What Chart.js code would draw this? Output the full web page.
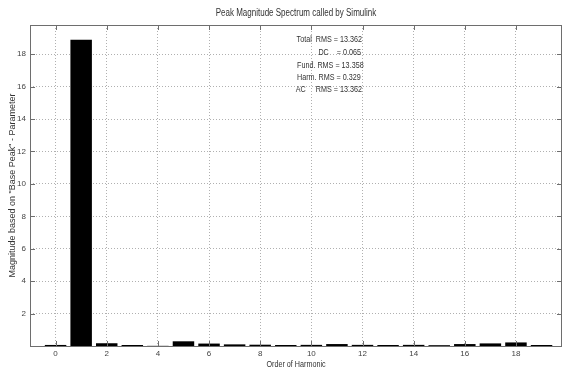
<!DOCTYPE html>
<html>
<head>
<meta charset="utf-8">
<script src="https://cdn.jsdelivr.net/npm/chart.js@4/dist/chart.umd.min.js"></script>
<style>
  body { margin: 0; background: #fff; }
  #wrap { width: 563px; height: 371px; }
</style>
</head>
<body>
<div id="wrap"><canvas id="spectre"></canvas></div>
<script>
// ordre des harmoniques et amplitude crete de chacun
var harmoniques = [0, 1, 2, 3, 4, 5, 6, 7, 8, 9, 10, 11, 12, 13, 14, 15, 16, 17, 18, 19];
var amplitudes = [0.065, 18.89, 0.17, 0.06, 0.01, 0.29, 0.15, 0.10, 0.08, 0.06,
                  0.07, 0.12, 0.07, 0.06, 0.07, 0.05, 0.12, 0.16, 0.22, 0.06];
var ticksX = [0, 2, 4, 6, 8, 10, 12, 14, 16, 18];
var ticksY = [2, 4, 6, 8, 10, 12, 14, 16, 18];

// texte des mesures RMS : [texte, x, alignement, y]
var mesures = [
    ['Total  RMS = 13.362', 362, 'right', 40],
    ['DC    = 0.065', 361, 'right', 53],
    ['Fund. RMS = 13.358', 297, 'left', 66],
    ['Harm. RMS = 0.329', 297, 'left', 78],
    ['AC     RMS = 13.362', 362, 'right', 90]
];

var police = 'Liberation Sans, Arial, sans-serif';

function texteEtroit(ctx, texte, x, y, align) { //Texte compresse horizontalement
    ctx.save();
    ctx.translate(x, y);
    ctx.scale(0.8, 1);
    ctx.textAlign = align;
    ctx.fillText(texte, 0, 0);
    ctx.restore();
}

var cadre = { //Plugin pour le titre, le cadre, les graduations et le texte
    id: 'cadre',
    afterDraw: function(chart) {
        var ctx = chart.ctx;
        var a = chart.chartArea;
        var sx = chart.scales.x;
        var sy = chart.scales.y;
        ctx.save();

        ctx.strokeStyle = '#6e6e6e';
        ctx.lineWidth = 1;
        ctx.strokeRect(a.left + 0.5, a.top + 0.5, a.right - a.left - 1, a.bottom - a.top);

        // graduations vers l'interieur
        ctx.beginPath();
        ticksX.forEach(function(v) {
            var px = Math.round(sx.getPixelForValue(v)) + 0.5;
            ctx.moveTo(px, a.bottom); ctx.lineTo(px, a.bottom - 5);
            ctx.moveTo(px, a.top); ctx.lineTo(px, a.top + 5);
        });
        ticksY.forEach(function(v) {
            var py = Math.round(sy.getPixelForValue(v)) + 0.5;
            ctx.moveTo(a.left, py); ctx.lineTo(a.left + 5, py);
            ctx.moveTo(a.right, py); ctx.lineTo(a.right - 5, py);
        });
        ctx.stroke();

        ctx.fillStyle = '#333';
        ctx.textBaseline = 'middle';
        ctx.font = '10px ' + police;
        texteEtroit(ctx, 'Peak Magnitude Spectrum called by Simulink', (a.left + a.right) / 2, 13, 'center');

        ctx.font = '9px ' + police;
        texteEtroit(ctx, 'Order of Harmonic', (a.left + a.right) / 2, 365, 'center');
        mesures.forEach(function(m) {
            texteEtroit(ctx, m[0], m[1], m[3], m[2]);
        });
        ctx.restore();
    }
};

var ctx = document.getElementById('spectre').getContext('2d');
var graphique = new Chart(ctx, {
    type: 'bar',
    data: {
        datasets: [{
            data: harmoniques.map(function(h, i) { return { x: h, y: amplitudes[i] }; }),
            backgroundColor: '#000',
            borderColor: '#000',
            borderWidth: 0,
            barPercentage: 0.84,
            categoryPercentage: 1
        }]
    },
    options: {
        responsive: true,
        maintainAspectRatio: false,
        animation: false,
        layout: { padding: { top: 25, right: 1, left: 0, bottom: 0 } },
        plugins: {
            legend: { display: false },
            tooltip: { enabled: false }
        },
        scales: {
            x: {
                type: 'linear',
                min: -1,
                max: 19.8,
                offset: false,
                afterBuildTicks: function(scale) {
                    scale.ticks = ticksX.map(function(v) { return { value: v }; });
                },
                afterFit: function(scale) { scale.height = 25; },
                grid: { offset: false, color: '#b0b0b0', drawTicks: false },
                border: { display: false, dash: [1, 2] },
                ticks: {
                    padding: 3,
                    maxRotation: 0,
                    color: '#444',
                    font: { family: police, size: 8 }
                }
            },
            y: {
                min: 0,
                max: 19.8,
                afterBuildTicks: function(scale) {
                    scale.ticks = ticksY.map(function(v) { return { value: v }; });
                },
                afterFit: function(scale) { scale.width = 30; },
                grid: { color: '#b0b0b0', drawTicks: false },
                border: { display: false, dash: [1, 2] },
                ticks: {
                    padding: 4,
                    color: '#444',
                    font: { family: police, size: 8 }
                },
                title: {
                    display: true,
                    text: 'Magnitude based on "Base Peak" - Parameter',
                    color: '#333',
                    padding: { top: 7, bottom: 0 },
                    font: { family: police, size: 9 }
                }
            }
        }
    },
    plugins: [cadre]
});
</script>
</body>
</html>
